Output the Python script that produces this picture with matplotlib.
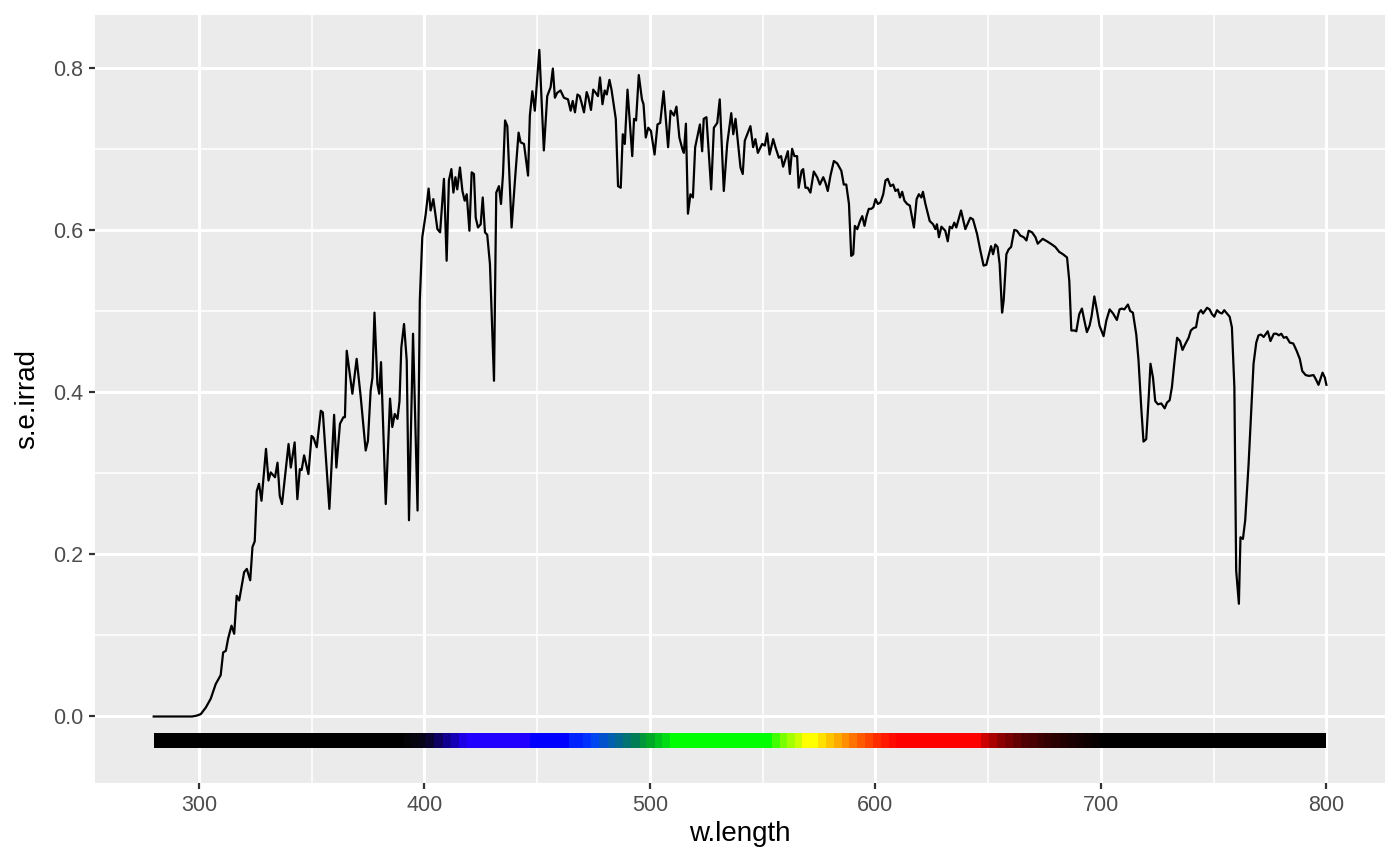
import matplotlib
matplotlib.use("Agg")
import matplotlib.pyplot as plt
import numpy as np

# spectrum (wavelength nm, spectral irradiance)
w_length = [
    280.0, 290.0, 297.0, 299.0, 300.9, 303.1, 305.3, 307.5, 309.7, 310.8,
    312.0, 313.0, 314.5, 315.7, 316.8, 317.9, 320.1, 321.3, 322.8, 323.8,
    324.8, 325.7, 326.7, 327.8, 329.8, 330.9, 331.9, 333.8, 334.9, 335.9,
    336.9, 339.8, 340.8, 342.5, 343.7, 344.8, 345.6, 346.7, 348.6, 350.0,
    350.8, 352.3, 354.1, 355.0, 357.9, 360.0, 361.0, 362.6, 364.1, 364.8,
    365.6, 368.1, 370.0, 371.8, 374.0, 375.0, 376.2, 377.0, 377.9, 379.2,
    380.0, 380.8, 382.9, 384.8, 385.8, 386.9, 388.1, 389.0, 389.8, 391.0,
    392.2, 393.2, 395.0, 397.0, 398.0, 399.1, 400.6, 401.9, 402.8, 404.0,
    405.8, 407.0, 408.7, 409.9, 410.9, 412.0, 412.9, 413.8, 414.6, 415.8,
    416.9, 417.9, 418.8, 420.0, 421.0, 422.0, 422.8, 423.8, 425.0, 425.9,
    426.9, 427.9, 429.1, 430.9, 431.9, 433.1, 434.0, 434.9, 435.8, 436.8,
    438.7, 440.4, 441.8, 442.7, 444.2, 446.0, 446.8, 447.9, 449.0, 451.0,
    453.0, 454.5, 456.0, 457.0, 457.9, 458.9, 460.4, 461.9, 463.7, 464.9,
    465.8, 466.8, 467.9, 468.9, 469.7, 470.8, 472.0, 472.8, 473.9, 474.9,
    476.0, 477.0, 477.9, 479.0, 480.0, 480.9, 482.1, 483.0, 484.9, 485.9,
    487.1, 488.0, 488.9, 490.1, 492.2, 493.0, 493.9, 495.1, 496.5, 497.2,
    498.2, 499.3, 500.5, 502.1, 503.4, 504.6, 506.1, 508.1, 509.2, 510.7,
    511.8, 513.1, 514.4, 515.1, 516.0, 516.9, 518.0, 519.1, 520.1, 522.2,
    523.2, 523.9, 525.1, 527.2, 528.4, 529.9, 531.0, 532.8, 534.3, 536.1,
    537.0, 538.0, 540.2, 541.2, 542.1, 544.6, 545.8, 546.8, 547.9, 549.8,
    551.0, 552.0, 553.1, 554.7, 555.7, 557.2, 558.2, 559.1, 561.2, 562.1,
    563.1, 564.1, 565.3, 566.0, 567.3, 568.0, 569.0, 570.0, 571.2, 572.7,
    574.2, 575.4, 576.9, 577.9, 578.9, 580.1, 581.6, 583.1, 584.9, 586.0,
    587.1, 588.3, 589.3, 590.2, 590.9, 592.0, 593.2, 594.2, 595.2, 596.1,
    597.1, 598.2, 599.1, 600.1, 601.1, 602.3, 603.5, 604.5, 605.5, 606.7,
    607.9, 608.9, 610.0, 610.9, 611.9, 612.9, 614.1, 615.3, 617.1, 618.3,
    619.3, 620.4, 621.1, 622.2, 624.1, 625.6, 626.6, 627.3, 628.2, 629.3,
    631.0, 632.1, 633.0, 634.0, 635.0, 635.9, 638.0, 639.9, 642.1, 643.3,
    645.1, 646.6, 648.0, 649.2, 650.2, 651.3, 652.2, 653.2, 654.2, 655.1,
    656.2, 656.9, 658.1, 659.1, 660.2, 661.6, 662.8, 664.3, 665.8, 667.0,
    668.0, 669.5, 671.0, 672.0, 674.2, 676.1, 678.3, 679.8, 681.5, 683.2,
    685.0, 686.0, 686.9, 688.3, 689.1, 690.4, 691.6, 692.7, 693.8, 695.0,
    695.9, 697.1, 698.3, 699.4, 701.2, 702.4, 703.9, 705.4, 707.1, 708.3,
    709.3, 710.4, 712.0, 713.0, 714.2, 715.7, 716.7, 717.9, 718.9, 720.1,
    721.2, 722.0, 723.1, 724.1, 725.3, 726.8, 728.3, 729.3, 730.5, 731.5,
    732.5, 733.8, 735.1, 736.2, 737.4, 738.9, 739.9, 741.1, 742.2, 743.3,
    744.4, 745.3, 747.1, 748.2, 749.3, 750.3, 751.5, 752.7, 753.7, 754.7,
    755.9, 757.1, 758.1, 759.2, 760.0, 761.2, 761.9, 763.0, 764.0, 765.5,
    766.6, 767.7, 768.9, 769.9, 771.0, 772.2, 774.0, 775.2, 776.7, 777.9,
    778.9, 780.0, 781.1, 782.3, 783.8, 785.3, 786.8, 788.2, 789.3, 790.8,
    792.3, 794.3, 795.3, 796.5, 798.3, 799.3, 800.0,
]
s_e_irrad = [
    0.000, 0.000, 0.000, 0.001, 0.003, 0.011, 0.022, 0.040, 0.051, 0.079,
    0.081, 0.096, 0.112, 0.102, 0.149, 0.143, 0.178, 0.182, 0.168, 0.209,
    0.216, 0.278, 0.287, 0.266, 0.330, 0.291, 0.301, 0.295, 0.313, 0.272,
    0.262, 0.336, 0.307, 0.338, 0.268, 0.305, 0.304, 0.322, 0.299, 0.346,
    0.344, 0.332, 0.377, 0.375, 0.256, 0.372, 0.307, 0.361, 0.369, 0.369,
    0.451, 0.398, 0.441, 0.394, 0.328, 0.340, 0.402, 0.418, 0.498, 0.410,
    0.398, 0.437, 0.262, 0.392, 0.357, 0.373, 0.367, 0.389, 0.455, 0.484,
    0.439, 0.242, 0.472, 0.254, 0.513, 0.591, 0.619, 0.651, 0.624, 0.638,
    0.601, 0.597, 0.663, 0.562, 0.661, 0.675, 0.646, 0.665, 0.650, 0.677,
    0.648, 0.636, 0.644, 0.599, 0.671, 0.669, 0.615, 0.603, 0.607, 0.640,
    0.597, 0.594, 0.558, 0.414, 0.646, 0.654, 0.632, 0.669, 0.735, 0.728,
    0.603, 0.669, 0.720, 0.708, 0.706, 0.667, 0.741, 0.771, 0.747, 0.822,
    0.698, 0.765, 0.776, 0.799, 0.763, 0.769, 0.772, 0.763, 0.761, 0.747,
    0.759, 0.745, 0.767, 0.765, 0.757, 0.745, 0.770, 0.763, 0.748, 0.773,
    0.769, 0.765, 0.788, 0.755, 0.772, 0.767, 0.785, 0.773, 0.737, 0.654,
    0.652, 0.718, 0.706, 0.773, 0.691, 0.737, 0.735, 0.791, 0.761, 0.755,
    0.714, 0.726, 0.722, 0.693, 0.730, 0.732, 0.771, 0.702, 0.747, 0.741,
    0.752, 0.714, 0.700, 0.695, 0.731, 0.620, 0.644, 0.640, 0.702, 0.730,
    0.697, 0.737, 0.739, 0.650, 0.726, 0.732, 0.761, 0.648, 0.706, 0.744,
    0.718, 0.737, 0.677, 0.669, 0.710, 0.728, 0.702, 0.712, 0.695, 0.706,
    0.704, 0.719, 0.693, 0.712, 0.702, 0.689, 0.691, 0.678, 0.697, 0.669,
    0.700, 0.691, 0.691, 0.652, 0.673, 0.675, 0.652, 0.652, 0.646, 0.672,
    0.665, 0.656, 0.665, 0.658, 0.648, 0.667, 0.685, 0.682, 0.673, 0.656,
    0.656, 0.632, 0.568, 0.570, 0.605, 0.601, 0.611, 0.617, 0.605, 0.617,
    0.626, 0.626, 0.628, 0.638, 0.632, 0.634, 0.644, 0.661, 0.663, 0.654,
    0.656, 0.648, 0.650, 0.640, 0.647, 0.636, 0.632, 0.630, 0.603, 0.638,
    0.644, 0.640, 0.647, 0.632, 0.611, 0.607, 0.601, 0.607, 0.591, 0.604,
    0.599, 0.586, 0.604, 0.602, 0.609, 0.603, 0.624, 0.601, 0.615, 0.613,
    0.595, 0.574, 0.556, 0.557, 0.568, 0.580, 0.570, 0.582, 0.579, 0.558,
    0.498, 0.513, 0.570, 0.576, 0.579, 0.600, 0.599, 0.593, 0.591, 0.587,
    0.599, 0.597, 0.591, 0.583, 0.589, 0.586, 0.582, 0.579, 0.573, 0.570,
    0.566, 0.537, 0.476, 0.476, 0.475, 0.496, 0.503, 0.488, 0.474, 0.482,
    0.494, 0.518, 0.500, 0.482, 0.469, 0.488, 0.502, 0.497, 0.489, 0.502,
    0.503, 0.502, 0.508, 0.500, 0.498, 0.471, 0.439, 0.381, 0.339, 0.342,
    0.393, 0.435, 0.418, 0.389, 0.385, 0.386, 0.380, 0.387, 0.390, 0.406,
    0.434, 0.467, 0.463, 0.452, 0.459, 0.467, 0.476, 0.479, 0.480, 0.497,
    0.501, 0.497, 0.504, 0.502, 0.496, 0.493, 0.501, 0.498, 0.497, 0.501,
    0.497, 0.493, 0.480, 0.406, 0.180, 0.139, 0.221, 0.219, 0.242, 0.311,
    0.373, 0.435, 0.461, 0.470, 0.471, 0.468, 0.475, 0.463, 0.472, 0.472,
    0.470, 0.472, 0.467, 0.468, 0.461, 0.460, 0.451, 0.441, 0.426, 0.421,
    0.420, 0.421, 0.416, 0.409, 0.424, 0.418, 0.409,
]

# colour bar under the spectrum: band start wavelengths and their colours
band_start = [
    280, 391, 394, 397.5, 400.5, 404.5, 408.5, 412, 415.5, 419,
    447, 464, 470.5, 474, 477.5, 481.5, 484.5, 488, 491.5, 495.5,
    498.5, 502.5, 505.5, 509, 554, 557.5, 561, 564.5, 567.5, 574.5,
    578, 581.5, 585, 588.5, 592, 595.5, 599, 602.5, 606, 609,
    647, 650.5, 654, 657.5, 661, 664.5, 668, 671.5, 675, 678.5,
    682, 685.5, 689, 692.5, 696, 699.5,
]
band_colour = [
    "#000000", "#040408", "#05050f", "#060418", "#080330", "#0d0060", "#0f0090", "#1500b5", "#1e00e6", "#2200ff",
    "#0000ff", "#0022ff", "#0032ff", "#0046f0", "#0052cc", "#005eb0", "#006890", "#007272", "#007d55", "#00963a",
    "#00a828", "#00c41e", "#00dc14", "#00ff00", "#40ff00", "#7aff00", "#a4ff00", "#ccff00", "#ffff00", "#ffe000",
    "#ffc400", "#ffaa00", "#ff8e00", "#ff7400", "#ff5a00", "#ff4400", "#ff2c00", "#ff1a00", "#ff0a00", "#ff0000",
    "#cc0000", "#aa0000", "#8c0000", "#780000", "#640000", "#500000", "#480000", "#3c0000", "#320000", "#2a0000",
    "#220000", "#1a0000", "#140000", "#0e0000", "#080000", "#000000",
]
band_end = band_start[1:] + [800]
bar_ymin, bar_ymax = -0.039, -0.020

plt.rcParams['font.family'] = ['Liberation Sans', 'DejaVu Sans']

fig = plt.figure(figsize=(14, 8.66), dpi=100)
ax = fig.add_axes([0.0679, 0.0958, 0.9214, 0.8869])
ax.set_facecolor("#EBEBEB")

for x0, x1, c in zip(band_start, band_end, band_colour):
    ax.fill_between([x0, x1], bar_ymin, bar_ymax, color=c, linewidth=0, zorder=2)

ax.plot(w_length, s_e_irrad, color="black", lw=1.6, zorder=3)

# ggplot-like expansion (5 %)
xlo, xhi = 280, 800
ylo, yhi = bar_ymin, max(s_e_irrad)
ax.set_xlim(xlo - 0.05 * (xhi - xlo), xhi + 0.05 * (xhi - xlo))
ax.set_ylim(ylo - 0.05 * (yhi - ylo), yhi + 0.05 * (yhi - ylo))

ax.set_xticks([300, 400, 500, 600, 700, 800])
ax.set_xticks([350, 450, 550, 650, 750], minor=True)
ax.set_yticks([0.0, 0.2, 0.4, 0.6, 0.8])
ax.set_yticks([0.1, 0.3, 0.5, 0.7], minor=True)
ax.set_yticklabels(["0.0", "0.2", "0.4", "0.6", "0.8"])

ax.grid(which="major", color="white", lw=2.2, zorder=0)
ax.grid(which="minor", color="white", lw=1.1, zorder=0)
ax.set_axisbelow(True)
for s in ax.spines.values():
    s.set_visible(False)

ax.tick_params(which="major", length=4.5, width=1.6, color="#333333",
               labelsize=15.5, labelcolor="#4D4D4D", pad=4)
ax.tick_params(which="minor", length=0)

ax.set_xlabel("w.length", fontsize=20, color="black", labelpad=4)
ax.set_ylabel("s.e.irrad", fontsize=20, color="black", labelpad=9)

fig.savefig("out.png", dpi=100, facecolor="white")
